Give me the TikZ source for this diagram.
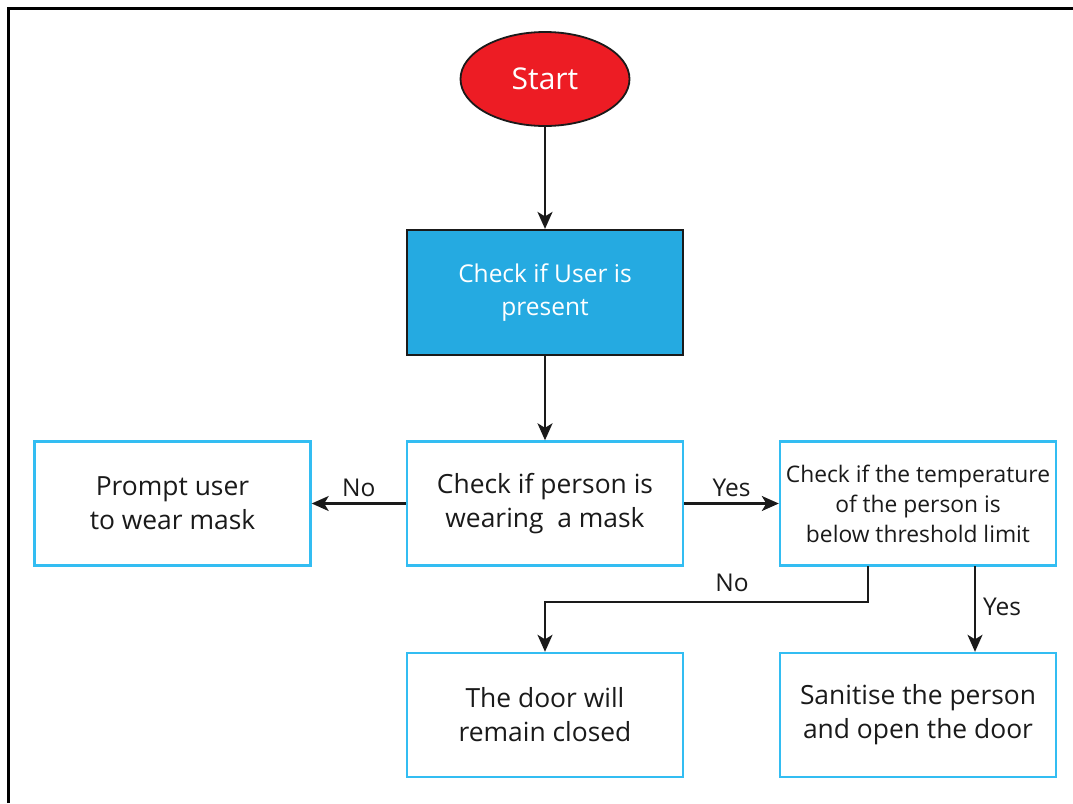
\documentclass[tikz,border=0pt]{standalone}
\usepackage{fontspec}
\setmainfont{Open Sans}
\usetikzlibrary{arrows.meta,shapes.geometric}
\definecolor{startred}{HTML}{ED1C24}
\definecolor{procblue}{HTML}{25AAE1}
\definecolor{edgeblue}{HTML}{33BDF2}
\definecolor{inkgray}{HTML}{1A1A1A}
\tikzset{
  flowbox/.style={draw=edgeblue, line width=2.4pt, fill=white, minimum width=276pt,
    minimum height=124pt, align=center, text=inkgray, font=\fontsize{26.4}{34}\selectfont},
  conn/.style={draw=inkgray, line width=2.1pt, -{Stealth[length=17pt,width=15pt,inset=4.5pt]}},
  lbl/.style={text=inkgray, font=\fontsize{24.5}{28}\selectfont}
}
\begin{document}
\begin{tikzpicture}[x=1pt,y=-1pt]
\useasboundingbox (0,0) rectangle (1073,803);
% frame edges
\draw[line width=3pt, black] (8,803) -- (8,8) -- (1073,8);

% nodes
\node[ellipse, draw=inkgray, line width=1.8pt, fill=startred, minimum width=169pt, minimum height=94pt,
      text=white, font=\fontsize{30}{34}\selectfont] (start) at (545,79) {Start};
\node[draw=inkgray, line width=2.2pt, fill=procblue, minimum width=276pt, minimum height=125pt,
      align=center, text=white, font=\fontsize{24.5}{33}\selectfont] (user) at (545,292.5) {Check if User is\\present};
\node[flowbox] (mask) at (545,503.5) {Check if person is\\wearing\ \ a mask};
\node[flowbox] (prompt) at (172.5,503.5) {Prompt user\\to wear mask};
\node[flowbox, font=\fontsize{22.8}{30}\selectfont] (temp) at (918,503.5) {Check if the temperature\\of the person is\\below threshold limit};
\node[flowbox] (closed) at (545,715) {The door will\\remain closed};
\node[flowbox] (open) at (918,715) {Sanitise the person\\and open the door};

\coordinate (tno) at (868,566);
\coordinate (tyes) at (975,566);
\coordinate (bend) at (868,602);

% connectors
\draw[conn] (start) -- (user);
\draw[conn] (user) -- (mask);
\draw[conn] (mask) -- node[lbl, above=2pt] {No} (prompt);
\draw[conn] (mask) -- node[lbl, above=2pt] {Yes} (temp);
\draw[conn] (tno) -- (bend) -| (closed);
\draw[conn] (tyes) -- (tyes |- closed.north);

% branch labels
\node[lbl] (nolbl) at (732,583) {No};
\node[lbl] (yeslbl) at (1002,607) {Yes};
\end{tikzpicture}
\end{document}
